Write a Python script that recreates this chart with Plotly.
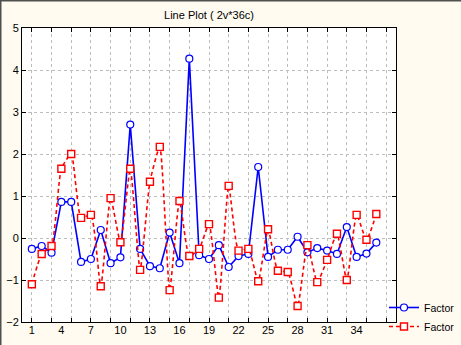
import plotly.graph_objects as go

# Case index (2 variables x 36 cases)
cases = list(range(1, 37))

factor_a = [-0.26, -0.19, -0.35, 0.86, 0.86, -0.57, -0.50, 0.19, -0.60, -0.46,
            2.70, -0.26, -0.67, -0.72, 0.13, -0.60, 4.27, -0.41, -0.50, -0.17,
            -0.69, -0.43, -0.38, 1.69, -0.45, -0.28, -0.28, 0.03, -0.34, -0.24,
            -0.30, -0.38, 0.26, -0.45, -0.37, -0.11]

factor_b = [-1.10, -0.38, -0.19, 1.65, 2.00, 0.48, 0.55, -1.15, 0.95, -0.10,
            1.65, -0.76, 1.34, 2.17, -1.24, 0.88, -0.43, -0.26, 0.33, -1.42,
            1.24, -0.30, -0.26, -1.03, 0.21, -0.78, -0.81, -1.62, -0.17, -1.05,
            -0.52, 0.10, -1.00, 0.55, -0.04, 0.57]

x_labels = list(range(1, 35, 3))        # 1, 4, 7, ... 34
x_grid = list(range(1, 38, 2))          # dotted grid at odd cases
y_ticks = list(range(-2, 6))

W, H = 461, 345
ML, MR, MT, MB = 22, 65, 28, 23
PW, PH = W - ML - MR, H - MT - MB

font = dict(family="Liberation Sans, Arial, sans-serif", size=11, color="black")

fig = go.Figure()
fig.add_trace(go.Scatter(
    x=cases, y=factor_a, name="Factor", mode="lines+markers",
    line=dict(color="#0000FF", width=1.6),
    marker=dict(symbol="circle", size=7, color="white",
                line=dict(color="#0000FF", width=1.2)),
))
# second series sits on the labelled overlay axis (same range as the grid axis)
fig.add_trace(go.Scatter(
    x=cases, y=factor_b, name="Factor", mode="lines+markers", xaxis="x2",
    line=dict(color="#FF0000", width=1.6, dash="4px,3px", shape="spline", smoothing=0.5),
    marker=dict(symbol="square", size=7, color="white",
                line=dict(color="#FF0000", width=1.4)),
))

# window frame (dark edge on top and left)
fx = lambda px: (px - ML) / PW
fy = lambda py: 1 - (py - MT) / PH
fig.add_shape(type="line", xref="paper", yref="paper",
              x0=fx(0), x1=fx(W), y0=fy(0.5), y1=fy(0.5),
              line=dict(color="#505050", width=2))
fig.add_shape(type="line", xref="paper", yref="paper",
              x0=fx(0.5), x1=fx(0.5), y0=fy(0), y1=fy(H),
              line=dict(color="#505050", width=2))

fig.update_layout(
    width=W, height=H,
    margin=dict(l=ML, r=MR, t=MT, b=MB, autoexpand=False),
    paper_bgcolor="#FFFBF0",
    plot_bgcolor="white",
    font=font,
    title=dict(text="Line Plot ( 2v*36c)", x=0.5, xref="paper", xanchor="center",
               y=1 - 15 / H, yref="container", yanchor="middle",
               font=dict(family="Liberation Sans, Arial, sans-serif", size=11, color="black")),
    showlegend=True,
    legend=dict(x=384 / W, y=1 - 293 / H, xref="container", yref="container",
                xanchor="left", yanchor="top",
                bgcolor="rgba(0,0,0,0)", font=dict(size=10.5), itemwidth=30,
                tracegroupgap=0),
    xaxis=dict(range=[0, 38], tickmode="array", tickvals=x_grid,
               ticktext=[""] * len(x_grid), ticks="inside", ticklen=4,
               tickcolor="black", showline=True, linecolor="black", linewidth=1,
               mirror="ticks", showgrid=True, gridcolor="#BDBDBD",
               griddash="dot", gridwidth=1, zeroline=False),
    xaxis2=dict(range=[0, 38], overlaying="x", anchor="y", side="bottom",
                tickmode="array", tickvals=x_labels,
                ticktext=[str(v) for v in x_labels], ticks="",
                showgrid=False, showline=False, zeroline=False,
                tickfont=dict(size=11)),
    yaxis=dict(range=[-2, 5], tickmode="array", tickvals=y_ticks,
               ticks="inside", ticklen=4, tickcolor="black",
               showline=True, linecolor="black", linewidth=1, mirror="ticks",
               showgrid=True, gridcolor="#BDBDBD", griddash="dot", gridwidth=1,
               zeroline=False, tickfont=dict(size=11)),
)

fig.write_html("out.html")
